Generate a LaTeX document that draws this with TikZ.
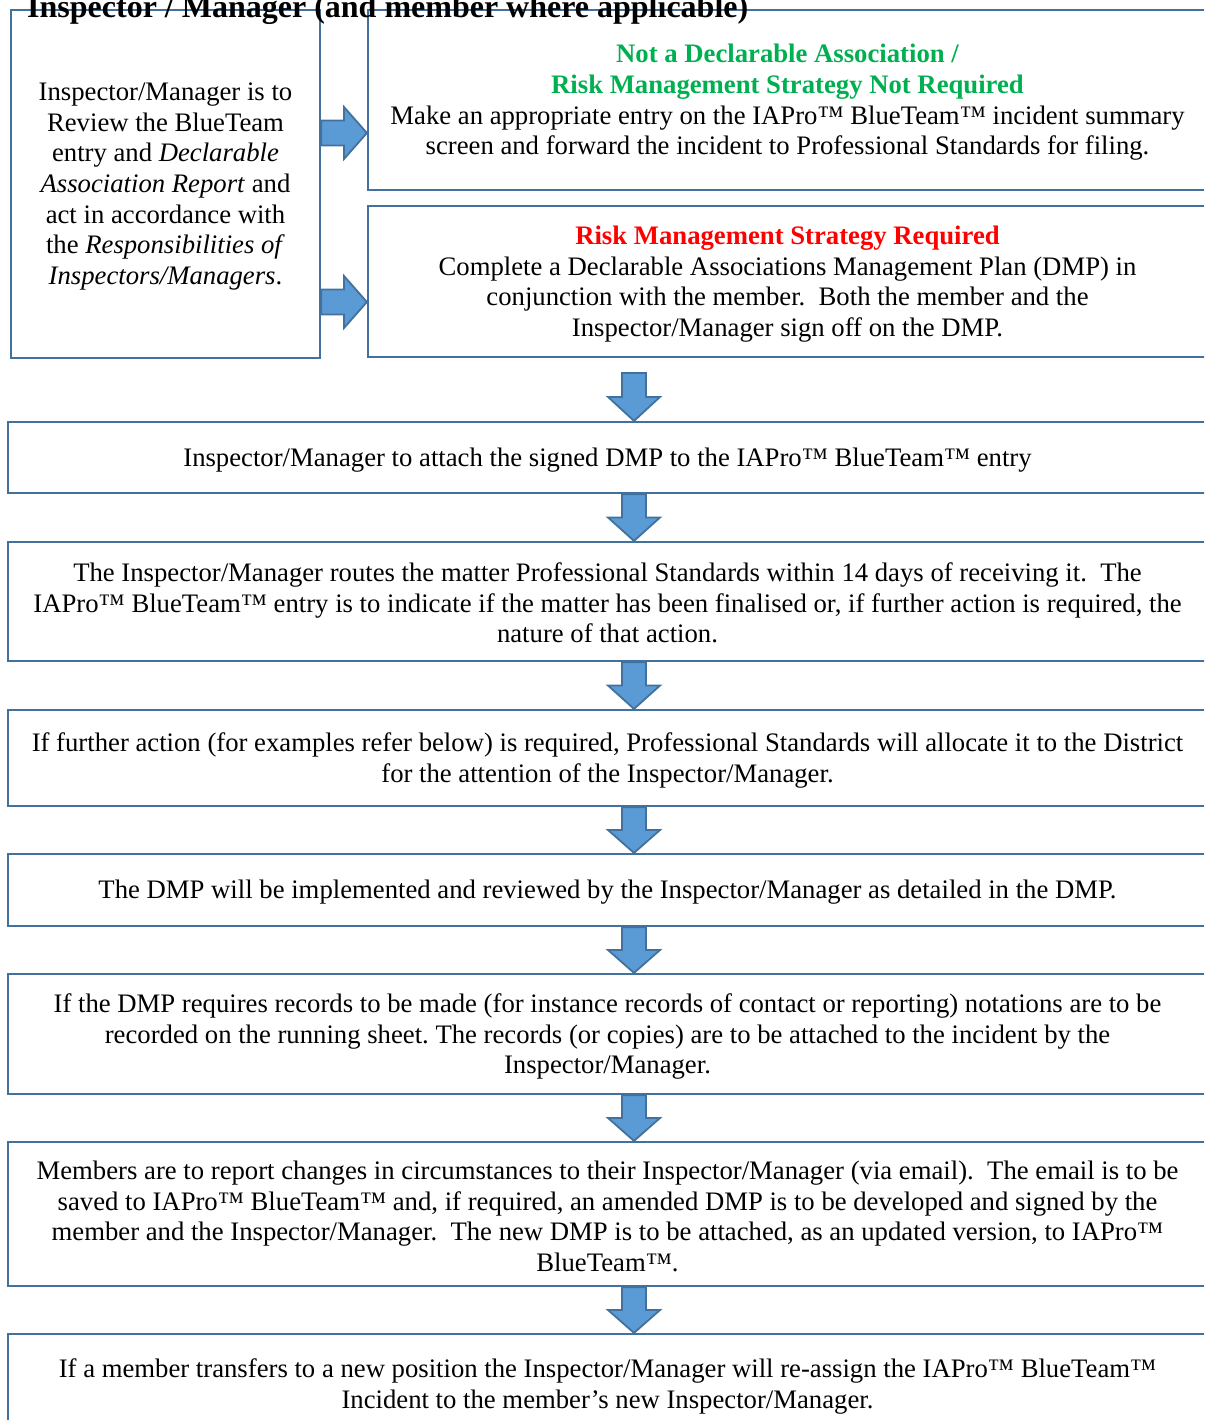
\documentclass[tikz,border=0pt]{standalone}
\usepackage{fontspec}
\setmainfont{Liberation Serif}
\usetikzlibrary{calc}
\definecolor{edgeblue}{HTML}{41719C}
\definecolor{fillblue}{HTML}{5B9BD5}
\definecolor{grn}{HTML}{00B050}
\definecolor{rd}{HTML}{FF0000}
\frenchspacing
\tikzset{
  txt/.style={font=\fontsize{26.7pt}{30.7pt}\selectfont\frenchspacing, inner sep=0pt, align=center},
  box/.style={draw=edgeblue, line width=2.2pt, inner sep=0pt, rectangle},
  blk/.style={draw=edgeblue, fill=fillblue, line width=1.8pt, line join=miter},
}
\newcommand\DownBlk[2]{%
  \draw[blk] let \p1=(#1), \p2=(#2), \p3=($(#1)!0.5!(#2)$) in
    (\x1-12pt,\y1) -- (\x1+12pt,\y1) -- (\x1+12pt,\y3) -- (\x1+26pt,\y3) --
    (\x1,\y2) -- (\x1-26pt,\y3) -- (\x1-12pt,\y3) -- cycle;}
\newcommand\RightBlk[2]{%
  \draw[blk] let \p1=(#1), \p2=(#2), \p3=($(#1)!0.5!(#2)$) in
    (\x1,\y1+12.5pt) -- (\x3,\y1+12.5pt) -- (\x3,\y1+26pt) -- (\x2,\y1) --
    (\x3,\y1-26pt) -- (\x3,\y1-12.5pt) -- (\x1,\y1-12.5pt) -- cycle;}
\begin{document}
\begin{tikzpicture}[x=1pt,y=-1pt]
\useasboundingbox (0,0) rectangle (1204,1420);
\clip (0,0) rectangle (1204,1420);

% boxes
\node[box, minimum width=309, minimum height=348] (L) at (165.5,184) {};
\node[box, minimum width=839, minimum height=180] (R1) at (787.5,100) {};
\node[box, minimum width=839, minimum height=151] (R2) at (787.5,281.5) {};
\node[box, minimum width=1199, minimum height=71] (B1) at (607.5,457.5) {};
\node[box, minimum width=1199, minimum height=119] (B2) at (607.5,601.5) {};
\node[box, minimum width=1199, minimum height=96] (B3) at (607.5,758) {};
\node[box, minimum width=1199, minimum height=72] (B4) at (607.5,890) {};
\node[box, minimum width=1199, minimum height=120] (B5) at (607.5,1034) {};
\node[box, minimum width=1199, minimum height=144] (B6) at (607.5,1214) {};
\node[box, minimum width=1199, minimum height=100] (B7) at (607.5,1384) {};

% texts
\node[txt] (Lt) at ($(L.center)+(0,2.5)$)
  {Inspector/Manager is to\\Review the BlueTeam\\entry and \textit{Declarable}\\\textit{Association Report} and\\act in accordance with\\the \textit{Responsibilities of}\\\textit{Inspectors/Managers}.};
\node[txt] (R1t) at ($(R1.center)+(0,2.5)$)
  {\textcolor{grn}{\bfseries Not a Declarable Association /}\\
   \textcolor{grn}{\bfseries Risk Management Strategy Not Required}\\
   Make an appropriate entry on the IAPro™ BlueTeam™ incident summary\\
   screen and forward the incident to Professional Standards for filing.};
\node[txt] (R2t) at ($(R2.center)+(0,2.5)$)
  {\textcolor{rd}{\bfseries Risk Management Strategy Required}\\
   Complete a Declarable Associations Management Plan (DMP) in\\
   conjunction with the member.\ \ Both the member and the\\
   Inspector/Manager sign off on the DMP.};
\node[txt] (B1t) at ($(B1.center)+(0,2.5)$)
  {Inspector/Manager to attach the signed DMP to the IAPro™ BlueTeam™ entry};
\node[txt] (B2t) at ($(B2.center)+(0,1.5)$)
  {The Inspector/Manager routes the matter Professional Standards within 14 days of receiving it.\ \ The\\
   IAPro™ BlueTeam™ entry is to indicate if the matter has been finalised or, if further action is required, the\\
   nature of that action.};
\node[txt] (B3t) at ($(B3.center)+(0,2.5)$)
  {If further action (for examples refer below) is required, Professional Standards will allocate it to the District\\
   for the attention of the Inspector/Manager.};
\node[txt] (B4t) at ($(B4.center)+(0,2.5)$)
  {The DMP will be implemented and reviewed by the Inspector/Manager as detailed in the DMP.};
\node[txt] (B5t) at ($(B5.center)+(0,2.5)$)
  {If the DMP requires records to be made (for instance records of contact or reporting) notations are to be\\
   recorded on the running sheet. The records (or copies) are to be attached to the incident by the\\
   Inspector/Manager.};
\node[txt] (B6t) at ($(B6.center)+(0,2.5)$)
  {Members are to report changes in circumstances to their Inspector/Manager (via email).\ \ The email is to be\\
   saved to IAPro™ BlueTeam™ and, if required, an amended DMP is to be developed and signed by the\\
   member and the Inspector/Manager.\ \ The new DMP is to be attached, as an updated version, to IAPro™\\
   BlueTeam™.};
\node[txt] (B7t) at ($(B7.center)+(0,2.5)$)
  {If a member transfers to a new position the Inspector/Manager will re-assign the IAPro™ BlueTeam™\\
   Incident to the member’s new Inspector/Manager.};

% title
\node[font=\fontsize{32pt}{36pt}\selectfont, anchor=base west, inner sep=0pt] (title) at (27,18)
  {\bfseries Inspector / Manager (and member where applicable)};

% right block arrows
\coordinate (h1) at (L.east |- 0,133);
\coordinate (k1) at (R1.west |- 0,133);
\RightBlk{h1}{k1}
\coordinate (h2) at (L.east |- 0,302);
\coordinate (k2) at (R2.west |- 0,302);
\RightBlk{h2}{k2}

% down block arrows
\coordinate (ax) at (634,373);
\coordinate (t1) at (B1.north -| ax);
\DownBlk{ax}{t1}
\coordinate (s2) at (B1.south -| ax);
\coordinate (t2) at (B2.north -| ax);
\DownBlk{s2}{t2}
\coordinate (s3) at (B2.south -| ax);
\coordinate (t3) at (B3.north -| ax);
\DownBlk{s3}{t3}
\coordinate (s4) at (B3.south -| ax);
\coordinate (t4) at (B4.north -| ax);
\DownBlk{s4}{t4}
\coordinate (s5) at (B4.south -| ax);
\coordinate (t5) at (B5.north -| ax);
\DownBlk{s5}{t5}
\coordinate (s6) at (B5.south -| ax);
\coordinate (t6) at (B6.north -| ax);
\DownBlk{s6}{t6}
\coordinate (s7) at (B6.south -| ax);
\coordinate (t7) at (B7.north -| ax);
\DownBlk{s7}{t7}
\end{tikzpicture}
\end{document}
